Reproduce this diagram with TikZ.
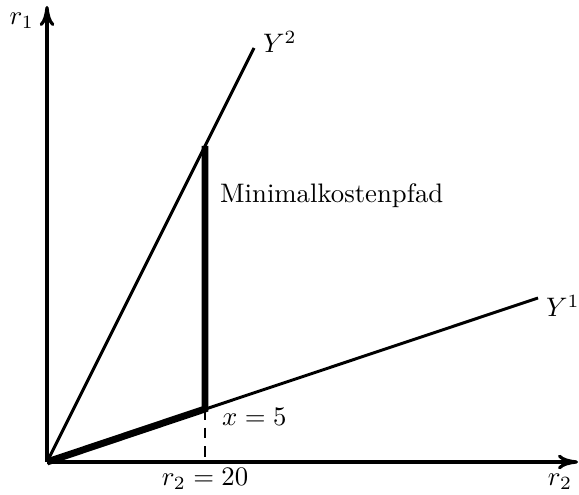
\documentclass[tikz,border=0pt]{standalone}
\usepackage{amsmath}
\usepackage{tikz}
\usetikzlibrary{arrows.meta,positioning,calc}
\tikzset{
  >={Computer Modern Rightarrow[length=7.5pt,width=5.5pt,line width=1.2pt]},
  axis/.style={->,line width=1.2pt},
  ray/.style={line width=1.1pt},
  path/.style={line width=2.6pt},
  guide/.style={line width=1pt,dash pattern=on 4pt off 3pt},
  lab/.style={inner sep=1pt,font=\normalsize},
}
\begin{document}
\begin{tikzpicture}[x=0.374pt,y=0.374pt]
  \useasboundingbox (-47,-33) rectangle (532,462);
  % axes
  \coordinate (O) at (0,0);
  \coordinate (xend) at (531,0);
  \coordinate (yend) at (0,456);
  \draw[axis] (O)--(xend);
  \draw[axis] (O)--(yend);
  \node[lab,anchor=east] (r1) at (-10,441){$r_1$};
  \node[lab] (r2) at (513,-20){$r_2$};
  % rays
  \coordinate (y2end) at (207,414);
  \coordinate (y1end) at (491,164);
  \draw[ray] (O)--(y2end);
  \draw[ray] (O)--(y1end);
  \node[lab,anchor=south west] (Y2) at ($(y2end)+(6,-8)$){$Y^2$};
  \node[lab,anchor=west] (Y1) at ($(y1end)+(5,-8)$){$Y^1$};
  % path at r_2 = 20
  \coordinate (top) at (158,316);
  \coordinate (bot) at (158,53);
  \coordinate (foot) at (158,0);
  \draw[path] (O)--(bot)--(top);
  \draw[guide] (bot)--(foot);
  \node[lab,anchor=west] (mk) at (170,266){Minimalkostenpfad};
  \node[lab,anchor=west] (x5) at (172,45){$x=5$};
  \node[lab,below=1pt of foot] (r220){$r_2=20$};
\end{tikzpicture}
\end{document}
